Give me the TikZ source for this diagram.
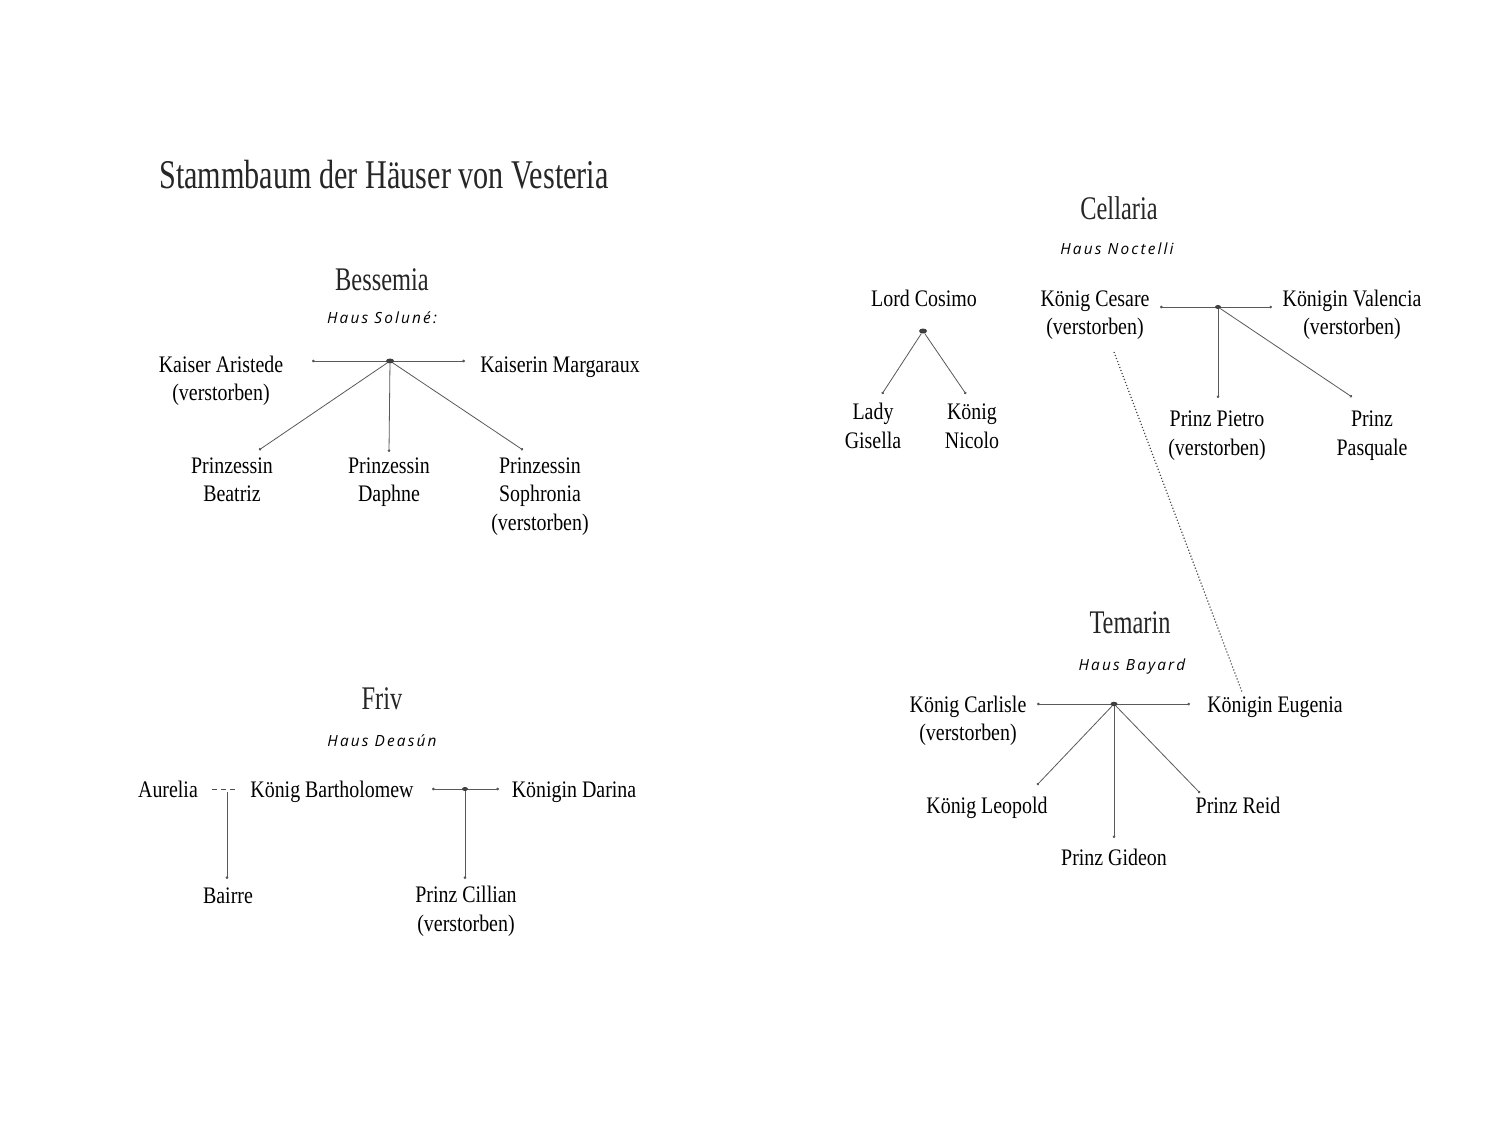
\documentclass[tikz,border=0pt]{standalone}
\usepackage{fontspec}
\setmainfont[FakeStretch=0.84]{Liberation Serif}
\newfontfamily\ttlfont[FakeStretch=0.74]{Liberation Serif}
\newfontfamily\hausfont[LetterSpace=14]{Open Sans}
\usetikzlibrary{arrows.meta,shapes.geometric}
\begin{document}
\begin{tikzpicture}[x=1pt,y=-1pt,
  person/.style={font=\fontsize{23.7}{28.5}\selectfont, align=center, inner sep=0pt, anchor=base, text=black},
  house/.style={font=\ttlfont\fontsize{33}{36}\selectfont, inner sep=0pt, anchor=base, text=black!85},
  bigtitle/.style={font=\ttlfont\fontsize{40.8}{44}\selectfont, inner sep=0pt, anchor=base, text=black!85},
  haus/.style={font=\hausfont\itshape\fontsize{15.4}{18}\selectfont, inner sep=0pt, anchor=base, text=black},
  rel/.style={draw=black!65, line width=0.8pt},
  kid/.style={rel, -{Circle[length=2.6pt]}},
  spouse/.style={rel, {Circle[length=2.6pt]}-{Circle[length=2.6pt]}},
  joint/.style={ellipse, fill=black!75, inner sep=0pt, minimum width=7pt, minimum height=4.5pt},
  affair/.style={draw=black!70, line width=0.9pt, dash pattern=on 5pt off 4pt},
  tie/.style={draw=black!75, line width=1.2pt, dash pattern=on 1.1pt off 2.1pt},
]
\useasboundingbox[fill=white] (0,0) rectangle (1500,1135);

% ---------- title ----------
\node[bigtitle] (title) at (384,188) {Stammbaum der Häuser von Vesteria};

% ---------- Bessemia ----------
% multi-line nodes: anchor=base is the baseline of the last line
\node[house] (bessemia) at (382,290) {Bessemia};
\node[haus] (solune) at (382,323) {Haus Soluné:};
\node[person] (aristede) at (221,400.5) {Kaiser Aristede\\(verstorben)};
\node[person] (margaraux) at (560,372) {Kaiserin Margaraux};
\node[person] (beatriz) at (232,501.5) {Prinzessin\\Beatriz};
\node[person] (daphne) at (389,501.5) {Prinzessin\\Daphne};
\node[person] (sophronia) at (540,530) {Prinzessin\\Sophronia\\(verstorben)};
\coordinate (bL) at (312,361);
\coordinate (bR) at (465,361);
\coordinate (eBea) at (259,450);
\coordinate (eDap) at (389,452);
\coordinate (eSop) at (523,450);
\draw[spouse] (bL) -- (bR);
\node[joint, minimum width=8pt, minimum height=5pt] (jB) at (390,361) {};
\draw[kid] (jB) -- (eBea);
\draw[kid] (jB) -- (eDap);
\draw[kid] (jB) -- (eSop);

% ---------- Friv ----------
\node[house] (friv) at (382,709) {Friv};
\node[haus] (deasun) at (382,746) {Haus Deasún};
\node[person] (aurelia) at (168,797) {Aurelia};
\node[person] (bartholomew) at (332,797) {König Bartholomew};
\node[person] (darina) at (574,797) {Königin Darina};
\node[person] (bairre) at (228,903) {Bairre};
\node[person] (cillian) at (466,931) {Prinz Cillian\\(verstorben)};
\coordinate (aL) at (212,789);
\coordinate (aR) at (236,789);
\coordinate (aTop) at (227,792);
\coordinate (eBai) at (227,879);
\draw[affair] (aL) -- (aR);
\draw[kid] (aTop) -- (eBai);
\coordinate (fL) at (432,789);
\coordinate (fR) at (499,789);
\coordinate (eCil) at (465,879);
\draw[spouse] (fL) -- (fR);
\node[joint, minimum width=6pt, minimum height=4pt] (jF) at (465,789) {};
\draw[kid] (jF) -- (eCil);

% ---------- Cellaria ----------
\node[house] (cellaria) at (1119,219) {Cellaria};
\node[haus] (noctelli) at (1117,254) {Haus Noctelli};
\node[person] (cosimo) at (924,306) {Lord Cosimo};
\node[person] (gisella) at (873,448) {Lady\\Gisella};
\node[person] (nicolo) at (972,448) {König\\Nicolo};
\node[joint, minimum width=8pt, minimum height=5pt] (jC1) at (923,331) {};
\coordinate (eGis) at (882,394);
\coordinate (eNic) at (966,394);
\draw[kid] (jC1) -- (eGis);
\draw[kid] (jC1) -- (eNic);

\node[person] (cesare) at (1095,334.5) {König Cesare\\(verstorben)};
\node[person] (valencia) at (1352,334.5) {Königin Valencia\\(verstorben)};
\node[person] (pietro) at (1217,455) {Prinz Pietro\\(verstorben)};
\node[person] (pasquale) at (1372,455) {Prinz\\Pasquale};
\coordinate (cL) at (1160,307);
\coordinate (cR) at (1272,307);
\coordinate (ePie) at (1218,398);
\coordinate (ePas) at (1352,397);
\draw[spouse] (cL) -- (cR);
\node[joint, minimum width=6pt, minimum height=4pt] (jC2) at (1218,307) {};
\draw[kid] (jC2) -- (ePie);
\draw[kid] (jC2) -- (ePas);

% ---------- Temarin ----------
\node[house] (temarin) at (1130,633) {Temarin};
\node[haus] (bayard) at (1132,670) {Haus Bayard};
\node[person] (carlisle) at (968,740.5) {König Carlisle\\(verstorben)};
\node[person] (eugenia) at (1275,712) {Königin Eugenia};
\node[person] (leopold) at (987,813) {König Leopold};
\node[person] (reid) at (1238,813) {Prinz Reid};
\node[person] (gideon) at (1114,865) {Prinz Gideon};
\coordinate (tL) at (1037,704);
\coordinate (tR) at (1190,704);
\coordinate (eLeo) at (1037,785);
\coordinate (eGid) at (1114,838);
\coordinate (eRei) at (1200,793);
\draw[spouse] (tL) -- (tR);
\node[joint, minimum width=7pt, minimum height=4.5pt] (jT) at (1114,704) {};
\draw[kid] (jT) -- (eLeo);
\draw[kid] (jT) -- (eGid);
\draw[kid] (jT) -- (eRei);

% ---------- Cesare -- Eugenia ----------
\coordinate (cesD) at (1114,352);
\coordinate (eugD) at (1242,692);
\draw[tie] (cesD) -- (eugD);
\end{tikzpicture}
\end{document}
